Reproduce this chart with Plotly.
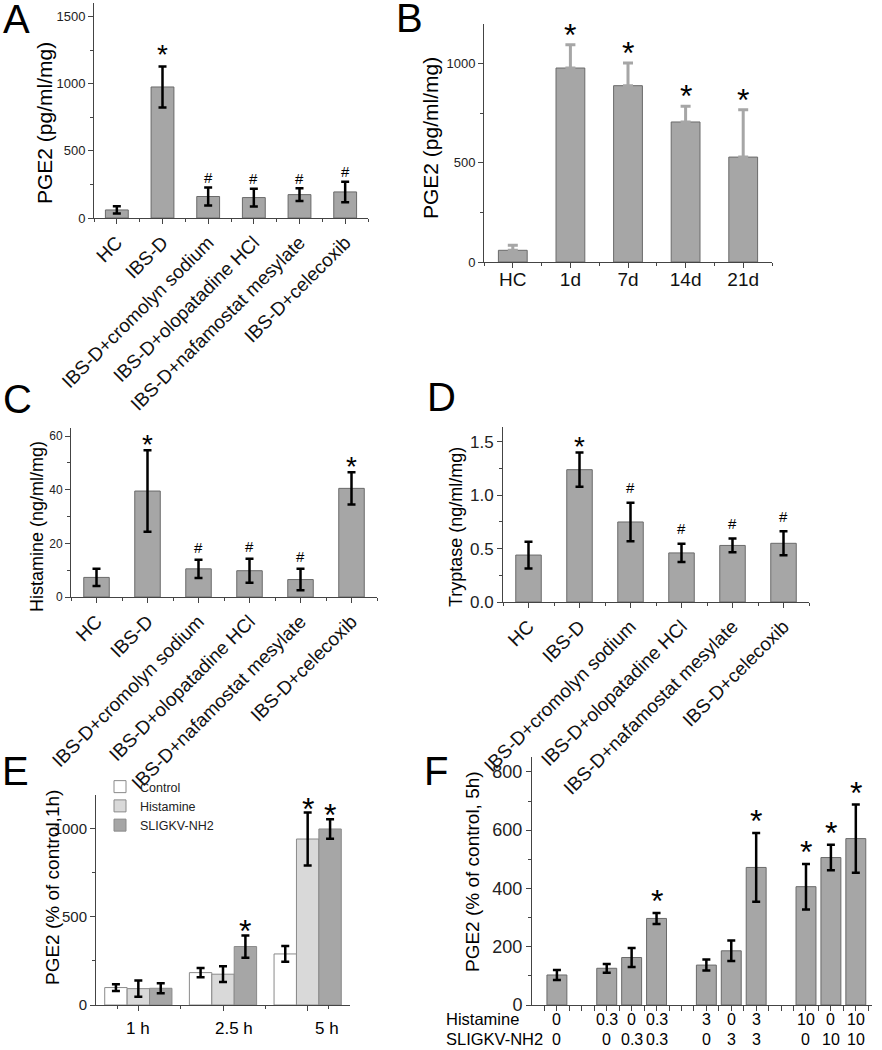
import plotly.graph_objects as go

W, H = 882, 1050
FONT = "Liberation Sans, Arial, sans-serif"
AXC = "#444444"
BAR = "#a6a6a6"
BAR_LINE = "#6a6a6a"

# ---------------- data ----------------
# Panel A
a_categories = ["HC", "IBS-D", "IBS-D+cromolyn sodium", "IBS-D+olopatadine HCl",
                "IBS-D+nafamostat mesylate", "IBS-D+celecoxib"]
a_pge2 = [60, 975, 160, 152, 174, 194]
a_pge2_err = [27, 152, 67, 66, 48, 76]
a_marks = ["", "*", "#", "#", "#", "#"]

# Panel B
b_categories = ["HC", "1d", "7d", "14d", "21d"]
b_pge2 = [59, 978, 889, 706, 529]
b_pge2_err = [25, 118, 114, 79, 239]
b_marks = ["", "*", "*", "*", "*"]

# Panel C
c_categories = a_categories
c_histamine = [7.3, 39.5, 10.5, 9.8, 6.5, 40.5]
c_histamine_err = [3.2, 15.2, 3.4, 4.5, 4.0, 6.0]
c_marks = ["", "*", "#", "#", "#", "*"]

# Panel D
d_categories = a_categories
d_tryptase = [0.44, 1.24, 0.75, 0.46, 0.53, 0.55]
d_tryptase_err = [0.125, 0.16, 0.18, 0.085, 0.064, 0.112]
d_marks = ["", "*", "#", "#", "#", "#"]

# Panel E
e_times = ["1 h", "2.5 h", "5 h"]
e_series = ["Control", "Histamine", "SLIGKV-NH2"]
e_control = [99, 184, 290]
e_control_err = [19, 26, 45]
e_histamine = [93, 175, 943]
e_histamine_err = [46, 45, 150]
e_sligkv = [95, 332, 1000]
e_sligkv_err = [28, 63, 55]
e_marks = [["", "", ""], ["", "", "*"], ["", "*", "*"]]  # per time: control, histamine, sligkv

# Panel F
f_group_sizes = [1, 3, 3, 3]
f_histamine_conc = ["0", "0.3", "0", "0.3", "3", "0", "3", "10", "0", "10"]
f_sligkv_conc = ["0", "0", "0.3", "0.3", "0", "3", "3", "0", "10", "10"]
f_pge2 = [103, 126, 163, 297, 137, 186, 472, 406, 506, 571]
f_pge2_err = [17, 15, 33, 19, 19, 35, 118, 78, 44, 117]
f_marks = ["", "", "", "*", "", "", "*", "*", "*", "*"]


# ---------------- helpers ----------------
def fx(p):
    return p / W


def fy(p):
    return 1 - p / H


fig = go.Figure()
annotations = []


def yaxis(top, bottom, rng, dtick, minor_dtick, size, anchor, fmt=None):
    d = dict(domain=[fy(bottom), fy(top)], range=rng, anchor=anchor, automargin=False,
             showline=True, linecolor=AXC, linewidth=1, mirror=False,
             ticks="outside", ticklen=5, tickwidth=1, tickcolor=AXC,
             tick0=0, dtick=dtick, showgrid=False, zeroline=False,
             tickfont=dict(family=FONT, size=size, color="#222"),
             minor=dict(dtick=minor_dtick, ticks="outside", ticklen=3, tickcolor=AXC),
             fixedrange=True)
    if fmt:
        d["tickformat"] = fmt
    return d


def xaxis(left, right, rng, tickvals, ticktext, minor_vals, size, anchor, angle=0, show=True,
          standoff=0):
    return dict(domain=[fx(left), fx(right)], range=rng, anchor=anchor, automargin=False,
                showline=True, linecolor=AXC, linewidth=1,
                ticks="outside", ticklen=5, tickwidth=1, tickcolor=AXC,
                tickmode="array", tickvals=tickvals, ticktext=ticktext,
                showticklabels=show, tickangle=angle, ticklabelstandoff=standoff,
                tickfont=dict(family=FONT, size=size, color="#111"),
                minor=dict(tickmode="array", tickvals=minor_vals, ticks="outside",
                           ticklen=3, tickcolor=AXC),
                showgrid=False, zeroline=False, fixedrange=True)


def marks(xref, yref, xs, tops, labels, star_size, star_shift, hash_size=15, hash_shift=10):
    for x, t, lab in zip(xs, tops, labels):
        if not lab:
            continue
        if lab == "*":
            annotations.append(dict(x=x, y=t, xref=xref, yref=yref, text="*",
                                    showarrow=False, yanchor="middle", xanchor="center",
                                    yshift=star_shift,
                                    font=dict(family=FONT, size=star_size, color="black")))
        else:
            annotations.append(dict(x=x, y=t, xref=xref, yref=yref, text="#",
                                    showarrow=False, yanchor="middle", xanchor="center",
                                    yshift=hash_shift,
                                    font=dict(family=FONT, size=hash_size, color="black")))


def bar_trace(x, y, err, xa, ya, width, color=BAR, err_color="black", up_only=False,
              name=None, showlegend=False, line_color=BAR_LINE, thickness=2.5, capw=4):
    ey = dict(type="data", array=err, color=err_color, thickness=thickness, width=capw, visible=True)
    if up_only:
        ey["symmetric"] = False
        ey["arrayminus"] = [0] * len(err)
    return go.Bar(x=x, y=y, error_y=ey, width=width, xaxis=xa, yaxis=ya,
                  marker=dict(color=color, line=dict(color=line_color, width=1)),
                  name=name, showlegend=showlegend, hoverinfo="skip")


def ytitle(text, cx, cy, size):
    annotations.append(dict(x=fx(cx), y=fy(cy), xref="paper", yref="paper", text=text,
                            textangle=-90, showarrow=False, xanchor="center", yanchor="middle",
                            font=dict(family=FONT, size=size, color="black")))


def letter(text, cx, cy):
    annotations.append(dict(x=fx(cx), y=fy(cy), xref="paper", yref="paper", text=text,
                            showarrow=False, xanchor="center", yanchor="middle",
                            font=dict(family=FONT, size=40, color="black")))


# ---------------- Panel A ----------------
ax = list(range(len(a_categories)))
fig.add_trace(bar_trace(ax, a_pge2, a_pge2_err, "x", "y", 0.5))
marks("x", "y", ax, [v + e for v, e in zip(a_pge2, a_pge2_err)], a_marks, 28, 12, 15, 10)

# ---------------- Panel B ----------------
bx = list(range(len(b_categories)))
fig.add_trace(bar_trace(bx, b_pge2, b_pge2_err, "x2", "y2", 0.5, err_color="#a6a6a6",
                        up_only=True, thickness=3, capw=5))
marks("x2", "y2", bx, [v + e for v, e in zip(b_pge2, b_pge2_err)], b_marks, 32, 10)

# ---------------- Panel C ----------------
cx = list(range(len(c_categories)))
fig.add_trace(bar_trace(cx, c_histamine, c_histamine_err, "x3", "y3", 0.5))
marks("x3", "y3", cx, [v + e for v, e in zip(c_histamine, c_histamine_err)], c_marks, 28, 6, 15, 12)

# ---------------- Panel D ----------------
dx = list(range(len(d_categories)))
fig.add_trace(bar_trace(dx, d_tryptase, d_tryptase_err, "x4", "y4", 0.5))
marks("x4", "y4", dx, [v + e for v, e in zip(d_tryptase, d_tryptase_err)], d_marks, 28, 6, 15, 15)

# ---------------- Panel E ----------------
ex = list(range(len(e_times)))
e_colors = ["white", "#d9d9d9", "#a6a6a6"]
e_vals = [e_control, e_histamine, e_sligkv]
e_errs = [e_control_err, e_histamine_err, e_sligkv_err]
for k, (name, vals, errs, col) in enumerate(zip(e_series, e_vals, e_errs, e_colors)):
    fig.add_trace(go.Bar(x=ex, y=vals, name=name, xaxis="x5", yaxis="y5",
                         error_y=dict(type="data", array=errs, color="black", thickness=2.5, width=4),
                         marker=dict(color=col, line=dict(color="#8a8a8a", width=1)),
                         showlegend=True, hoverinfo="skip", offsetgroup=str(k)))
bw_e = 0.265
for k in range(3):
    xs = [i + (k - 1) * bw_e for i in ex]
    tops = [e_vals[k][i] + e_errs[k][i] for i in ex]
    labs = [e_marks[i][k] for i in ex]
    marks("x5", "y5", xs, tops, labs, 32, 4)

# ---------------- Panel F ----------------
f_pos = []
cur = 0
for size in f_group_sizes:
    for _ in range(size):
        f_pos.append(cur)
        cur += 1
    cur += 1
fig.add_trace(bar_trace(f_pos, f_pge2, f_pge2_err, "x6", "y6", 0.8))
marks("x6", "y6", f_pos, [v + e for v, e in zip(f_pge2, f_pge2_err)], f_marks, 32, 12)
for x, h_, s_ in zip(f_pos, f_histamine_conc, f_sligkv_conc):
    annotations.append(dict(x=x, y=fy(1019), xref="x6", yref="paper", text=h_, showarrow=False,
                            xanchor="center", yanchor="middle",
                            font=dict(family=FONT, size=16, color="black")))
    annotations.append(dict(x=x, y=fy(1039), xref="x6", yref="paper", text=s_, showarrow=False,
                            xanchor="center", yanchor="middle",
                            font=dict(family=FONT, size=16, color="black")))
for txt, cy in [("Histamine", 1019), ("SLIGKV-NH2", 1039)]:
    annotations.append(dict(x=fx(444), y=fy(cy), xref="paper", yref="paper", text=txt,
                            showarrow=False, xanchor="left", yanchor="middle",
                            font=dict(family=FONT, size=16.5, color="black")))

# E x labels (annotations at observed positions)
for t, xv in zip(e_times, [0, 1.135, 2.23]):
    annotations.append(dict(x=xv, y=fy(1028), xref="x5", yref="paper", text=t, showarrow=False,
                            xanchor="center", yanchor="middle",
                            font=dict(family=FONT, size=17, color="black")))

# titles & letters
ytitle("PGE2 (pg/ml/mg)", 45, 123, 21)
ytitle("PGE2 (pg/ml/mg)", 430, 138, 21)
ytitle("Histamine (ng/ml/mg)", 37, 527, 18)
ytitle("Tryptase (ng/ml/mg)", 456, 527, 18)
ytitle("PGE2 (% of control,1h)", 52, 888, 19)
ytitle("PGE2 (% of control, 5h)", 472, 872, 19)
letter("A", 16, 19)
letter("B", 409, 18)
letter("C", 17, 399)
letter("D", 442, 397)
letter("E", 15, 771)
letter("F", 436, 771)

half = lambda n: [i + 0.5 for i in range(-1, n)]

fig.update_layout(
    width=W, height=H, autosize=False,
    margin=dict(l=0, r=0, t=0, b=0, pad=0, autoexpand=False),
    paper_bgcolor="white", plot_bgcolor="white",
    barmode="group", bargap=0.206, bargroupgap=0,
    font=dict(family=FONT, color="black"),
    showlegend=True,
    legend=dict(x=fx(100), y=fy(772), xanchor="left", yanchor="top",
                font=dict(family=FONT, size=12.5, color="#222"),
                bgcolor="rgba(0,0,0,0)", itemwidth=30, tracegroupgap=0,
                traceorder="normal"),
    xaxis=xaxis(94, 368, [-0.5, 5.5], ax, a_categories, half(6), 19, "y", angle=-45),
    yaxis=yaxis(3, 218, [0, 1600], 500, 250, 13, "x"),
    xaxis2=xaxis(484, 772, [-0.5, 4.5], bx, b_categories, half(5), 19, "y2", standoff=-5),
    yaxis2=yaxis(24, 262, [0, 1200], 500, 250, 13, "x2"),
    xaxis3=xaxis(71, 377, [-0.5, 5.5], cx, c_categories, half(6), 19, "y3", angle=-45),
    yaxis3=yaxis(428, 597, [0, 63], 20, 10, 12, "x3"),
    xaxis4=xaxis(503, 809, [-0.5, 5.5], dx, d_categories, half(6), 19, "y4", angle=-45),
    yaxis4=yaxis(427, 602, [0, 1.64], 0.5, 0.25, 17, "x4", fmt=".1f"),
    xaxis5=xaxis(96, 350, [-0.5, 2.5], ex, ["", "", ""], [-0.25, 0.5, 1.5, 2.25], 17, "y5"),
    yaxis5=yaxis(795, 1005, [0, 1193], 500, 250, 15, "x5"),
    xaxis6=xaxis(532, 872, [-1, 12.65], [i * 0.5 for i in range(-1, 26)], None, [], 16, "y6", show=False),
    yaxis6=yaxis(757, 1005, [0, 851], 200, 100, 18, "x6"),
    annotations=annotations,
)
fig.update_xaxes(layer="above traces")
fig.update_yaxes(layer="above traces")

fig.write_html("out.html", config={"displayModeBar": False, "staticPlot": True},
               post_script="document.body.style.margin='0px';")
